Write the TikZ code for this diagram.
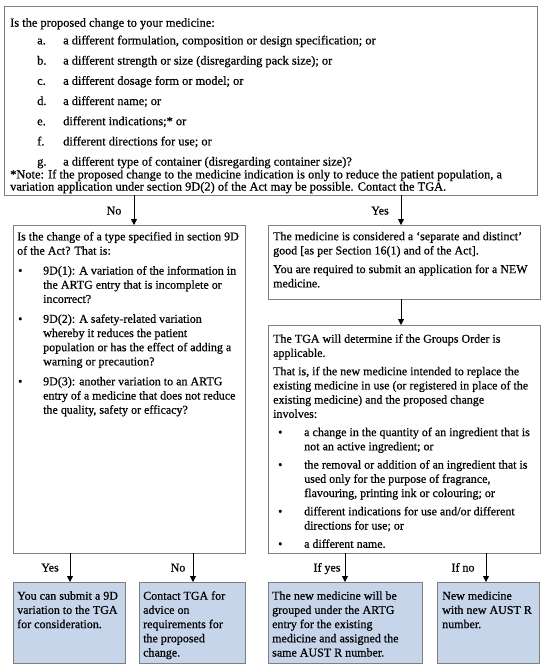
\documentclass[tikz,border=0pt]{standalone}
\usepackage{fontspec}
\setmainfont{Liberation Serif}[FakeBold=0.6]
\usetikzlibrary{arrows.meta}
\definecolor{bord}{HTML}{7F7F7F}
\definecolor{boxfill}{HTML}{C6D5EA}
\tikzset{
  box/.style={draw=bord, line width=0.9bp, rectangle, inner sep=0pt, outer sep=0pt, anchor=north west},
  leaf/.style={box, fill=boxfill},
  txt/.style={inner sep=0pt, anchor=north west, align=left, font=\fontsize{12bp}{14.2bp}\selectfont},
  lab/.style={inner sep=0pt, anchor=base, font=\fontsize{12bp}{14.2bp}\selectfont},
  arr/.style={draw=black, line width=0.8bp, -{Triangle[width=6bp,length=6bp]}}
}
\newcommand{\firstln}{\rule{0pt}{10bp}}
\newcommand{\itm}[3]{\hspace*{#1}\makebox[#2][l]{\textbullet}#3}
\begin{document}
\begin{tikzpicture}[x=1bp, y=-1bp]
\useasboundingbox (0,0) rectangle (550,672);
\fill[white] (0,0) rectangle (550,672);

% boxes
\node[box, minimum width=533bp, minimum height=189bp] (q) at (4,6) {};
\node[box, minimum width=232bp, minimum height=328bp] (sec) at (13,225) {};
\node[box, minimum width=272bp, minimum height=74bp] (sep) at (268,225) {};
\node[box, minimum width=272bp, minimum height=228bp] (grp) at (268,325) {};
\node[leaf, minimum width=112bp, minimum height=81bp] (var) at (13,582) {};
\node[leaf, minimum width=106bp, minimum height=81bp] (con) at (139,582) {};
\node[leaf, minimum width=154bp, minimum height=81bp] (same) at (268,582) {};
\node[leaf, minimum width=102bp, minimum height=81bp] (new) at (437,582) {};

% texts
\node[txt, font=\fontsize{12.4bp}{12.2bp}\selectfont] (qt) at (10,16.5) {%
\firstln Is the proposed change to your medicine:\\[5.5bp]
\hspace*{27bp}\makebox[26bp][l]{a.}a different formulation, composition or design specification; or\\[8bp]
\hspace*{27bp}\makebox[26bp][l]{b.}a different strength or size (disregarding pack size); or\\[8bp]
\hspace*{27bp}\makebox[26bp][l]{c.}a different dosage form or model; or\\[8bp]
\hspace*{27bp}\makebox[26bp][l]{d.}a different name; or\\[8bp]
\hspace*{27bp}\makebox[26bp][l]{e.}different indications;* or\\[8bp]
\hspace*{27bp}\makebox[26bp][l]{f.}different directions for use; or\\[8bp]
\hspace*{27bp}\makebox[26bp][l]{g.}a different type of container (disregarding container size)?\\[0.6bp]
{*}Note: If the proposed change to the medicine indication is only to reduce the patient population, a\\
variation application under section 9D(2) of the Act may be possible. Contact the TGA.};

\node[txt] (sect) at (17,230.2) {%
\firstln Is the change of a type specified in section 9D\\
of the Act? That is:\\[5.7bp]
\itm{1bp}{25bp}{9D(1): A variation of the information in}\\
\hspace*{26bp}the ARTG entry that is incomplete or\\
\hspace*{26bp}incorrect?\\[5.7bp]
\itm{1bp}{25bp}{9D(2): A safety-related variation}\\
\hspace*{26bp}whereby it reduces the patient\\
\hspace*{26bp}population or has the effect of adding a\\
\hspace*{26bp}warning or precaution?\\[5.7bp]
\itm{1bp}{25bp}{9D(3): another variation to an ARTG}\\
\hspace*{26bp}entry of a medicine that does not reduce\\
\hspace*{26bp}the quality, safety or efficacy?};

\node[txt] (sept) at (273,230) {%
\firstln The medicine is considered a ‘separate and distinct’\\
good [as per Section 16(1) and of the Act].\\[4.5bp]
You are required to submit an application for a NEW\\
medicine.};

\node[txt] (grpt) at (273,332.5) {%
\firstln The TGA will determine if the Groups Order is\\
applicable.\\[4.1bp]
That is, if the new medicine intended to replace the\\
existing medicine in use (or registered in place of the\\
existing medicine) and the proposed change\\
involves:\\[4.1bp]
\itm{5bp}{26bp}{a change in the quantity of an ingredient that is}\\
\hspace*{31bp}not an active ingredient; or\\[4.1bp]
\itm{5bp}{26bp}{the removal or addition of an ingredient that is}\\
\hspace*{31bp}used only for the purpose of fragrance,\\
\hspace*{31bp}flavouring, printing ink or colouring; or\\[4.1bp]
\itm{5bp}{26bp}{different indications for use and/or different}\\
\hspace*{31bp}directions for use; or\\[4.1bp]
\itm{5bp}{26bp}{a different name.}};

\node[txt] (vart) at (17,589.5) {\firstln You can submit a 9D\\variation to the TGA\\for consideration.};
\node[txt] (cont) at (143,589.5) {\firstln Contact TGA for\\advice on\\requirements for\\the proposed\\change.};
\node[txt] (samet) at (272,589.5) {\firstln The new medicine will be\\grouped under the ARTG\\entry for the existing\\medicine and assigned the\\same AUST R number.};
\node[txt] (newt) at (442,589.5) {\firstln New medicine\\with new AUST R\\number.};

% arrow columns
\coordinate (xNo) at (134,0);
\coordinate (xYes) at (401,0);
\coordinate (xY2) at (70,0);
\coordinate (xN2) at (193,0);
\coordinate (xIY) at (345,0);
\coordinate (xIN) at (486,0);

\draw[arr] (q.south -| xNo) -- (sec.north -| xNo);
\draw[arr] (q.south -| xYes) -- (sep.north -| xYes);
\draw[arr] (sep.south -| xYes) -- (grp.north -| xYes);
\draw[arr] (sec.south -| xY2) -- (var.north -| xY2);
\draw[arr] (sec.south -| xN2) -- (con.north -| xN2);
\draw[arr] (grp.south -| xIY) -- (same.north -| xIY);
\draw[arr] (grp.south -| xIN) -- (new.north -| xIN);

% labels
\node[lab] (lNo) at (114,214.5) {No};
\node[lab] (lYes) at (380,214.5) {Yes};
\node[lab] (lY2) at (50,571.5) {Yes};
\node[lab] (lN2) at (178,571.5) {No};
\node[lab] (lIY) at (327,571.5) {If yes};
\node[lab] (lIN) at (463,571.5) {If no};
\end{tikzpicture}
\end{document}
